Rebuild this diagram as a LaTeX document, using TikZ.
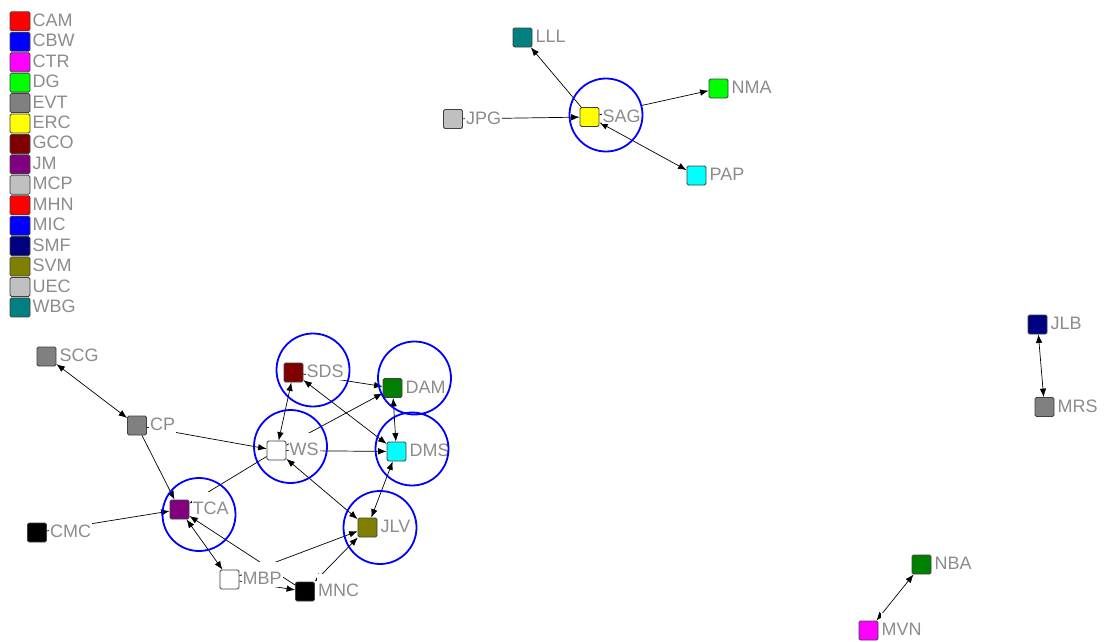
\documentclass[tikz,border=0pt]{standalone}
\usepackage{fontspec}
\setmainfont{Liberation Sans}
\usetikzlibrary{arrows.meta}

% node fill colours
\definecolor{nred}{RGB}{255,0,0}
\definecolor{nblue}{RGB}{0,0,255}
\definecolor{nmag}{RGB}{255,0,255}
\definecolor{nlime}{RGB}{0,255,0}
\definecolor{ngray}{RGB}{128,128,128}
\definecolor{nyellow}{RGB}{255,255,0}
\definecolor{nmaroon}{RGB}{128,0,0}
\definecolor{npurple}{RGB}{128,0,128}
\definecolor{nsilver}{RGB}{192,192,192}
\definecolor{nnavy}{RGB}{0,0,128}
\definecolor{nolive}{RGB}{128,128,0}
\definecolor{nteal}{RGB}{0,128,128}
\definecolor{ngreen}{RGB}{0,128,0}
\definecolor{ncyan}{RGB}{0,255,255}
\definecolor{lbltext}{RGB}{140,140,140}

\tikzset{
  box/.style={draw=black!75, line width=0.8pt, rounded corners=1.5pt,
    minimum width=19pt, minimum height=19pt, inner sep=0pt},
  lbl/.style={anchor=base west, fill=white, inner xsep=1pt, inner ysep=0pt,
    text height=23pt, text depth=2pt, text=lbltext,
    font=\fontsize{18}{20}\selectfont},
  keytext/.style={anchor=base west, inner xsep=2pt, inner ysep=0pt, text=lbltext,
    font=\fontsize{18}{20}\selectfont},
  link/.style={draw=black, line width=0.7pt},
  uni/.style={link, -{Latex[length=8.5pt,width=6.5pt]}},
  bi/.style={link, {Latex[length=8.5pt,width=6.5pt]}-{Latex[length=8.5pt,width=6.5pt]}},
  grp/.style={draw=nblue, line width=1.8pt, circle, inner sep=0pt, minimum size=73pt}
}

\begin{document}
\begin{tikzpicture}[x=1pt, y=-1pt]
\fill[white] (0,0) rectangle (1104,641);
\useasboundingbox (0,0) rectangle (1104,641);

% legend
\foreach \nm/\col [count=\i from 0] in {CAM/nred, CBW/nblue, CTR/nmag, DG/nlime,
    EVT/ngray, ERC/nyellow, GCO/nmaroon, JM/npurple, MCP/nsilver, MHN/nred,
    MIC/nblue, SMF/nnavy, SVM/nolive, UEC/nsilver, WBG/nteal} {
  \node[box, fill=\col, minimum width=20pt] (leg\nm) at (20, {21.3+20.44*\i}) {};
  \node[keytext] (leg\nm t) at ([yshift=-5pt]leg\nm.east) {\nm};
}

% actors
\node[box, fill=nteal]   (LLL) at (522.5,37.5) {};
\node[box, fill=nsilver] (JPG) at (453,119) {};
\node[box, fill=nyellow] (SAG) at (589.5,117) {};
\node[box, fill=nlime]   (NMA) at (718.5,88.5) {};
\node[box, fill=ncyan]   (PAP) at (696.5,175.5) {};
\node[box, fill=ngray]   (SCG) at (46.5,356.5) {};
\node[box, fill=ngray]   (CP)  at (137,425.5) {};
\node[box, fill=npurple] (TCA) at (179.5,509.5) {};
\node[box, fill=black]   (CMC) at (37,532.5) {};
\node[box, fill=white]   (MBP) at (229.5,579.5) {};
\node[box, fill=nmaroon] (SDS) at (293.5,372.5) {};
\node[box, fill=ngreen]  (DAM) at (392.5,388) {};
\node[box, fill=white]   (WS)  at (276.5,450.5) {};
\node[box, fill=ncyan]   (DMS) at (396.5,451.5) {};
\node[box, fill=nolive]  (JLV) at (367.5,527.5) {};
\node[box, fill=black]   (MNC) at (305,591.5) {};
\node[box, fill=nnavy]   (JLB) at (1037.5,324.5) {};
\node[box, fill=ngray]   (MRS) at (1044.5,407) {};
\node[box, fill=ngreen]  (NBA) at (921.5,564.5) {};
\node[box, fill=nmag]    (MVN) at (868.5,630.5) {};

% ties
\draw[uni] (SAG) -- (LLL);
\draw[uni] (JPG) -- (SAG);
\draw[uni] (SAG) -- (NMA);
\draw[bi]  (SAG) -- (PAP);
\draw[bi]  (JLB) -- (MRS);
\draw[bi]  (NBA) -- (MVN);
\draw[bi]  (SCG) -- (CP);
\draw[uni] (CP) -- (TCA);
\draw[uni] (CP) -- (WS);
\draw[uni] (CMC) -- (TCA);
\draw[uni] (WS) -- (TCA);
\draw[bi]  (TCA) -- (MBP);
\draw[uni] (MNC) -- (TCA);
\draw[uni] (MBP) -- (MNC);
\draw[uni] (MBP) -- (JLV);
\draw[bi]  (MNC) -- (JLV);
\draw[bi]  (WS) -- (JLV);
\draw[bi]  (SDS) -- (WS);
\draw[uni] (SDS) -- (DAM);
\draw[uni] (WS) -- (DAM);
\draw[uni] (WS) -- (DMS);
\draw[bi]  (SDS) -- (DMS);
\draw[bi]  (DAM) -- (DMS);
\draw[bi]  (DMS) -- (JLV);

% names
\foreach \nm in {LLL,JPG,SAG,NMA,PAP,SCG,CP,TCA,CMC,MBP,SDS,DAM,WS,DMS,JLV,MNC,JLB,MRS,NBA,MVN}
  \node[lbl] (\nm t) at ([xshift=2pt,yshift=-5pt]\nm.east) {\nm};

% highlighted actors
\node[grp] (gSAG) at (606,115) {};
\node[grp] (gSDS) at (313,370) {};
\node[grp] (gDAM) at (414.5,378) {};
\node[grp] (gWS)  at (290.5,446.5) {};
\node[grp] (gDMS) at (412,449) {};
\node[grp] (gJLV) at (380,527.5) {};
\node[grp] (gTCA) at (199,514.5) {};
\end{tikzpicture}
\end{document}
